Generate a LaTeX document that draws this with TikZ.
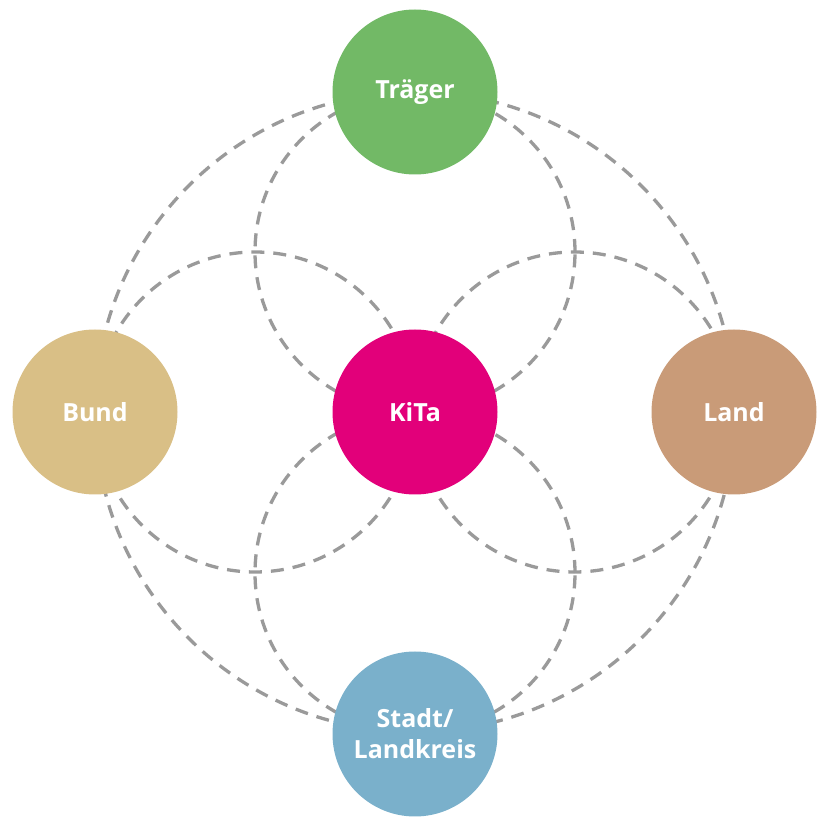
\documentclass[tikz,border=0pt]{standalone}
\usepackage{fontspec}
\setsansfont{Open Sans}
\usepackage{tikz}
\usetikzlibrary{calc,backgrounds}

\definecolor{traegergreen}{HTML}{72B966}
\definecolor{bundsand}{HTML}{D9BF86}
\definecolor{kitamagenta}{HTML}{E2007A}
\definecolor{landbrown}{HTML}{C99B78}
\definecolor{stadtblue}{HTML}{7AB0CB}
\definecolor{ringgray}{HTML}{9A9A9A}

\begin{document}
\begin{tikzpicture}[x=1pt, y=1pt,
  actor/.style={circle, minimum size=165pt, inner sep=0pt, text=white,
    align=center, font=\sffamily\bfseries\fontsize{25}{31}\selectfont},
  ring/.style={draw=ringgray, line width=3.3pt, dash pattern=on 13pt off 9pt}]

 \useasboundingbox (0,0) rectangle (828,831);

 \node[actor, fill=kitamagenta] (kita_0) at (415,419) 
     {KiTa};

 \node[actor, fill=traegergreen] (actor_traeger) at (415,739) 
     {Träger};

 \node[actor, fill=bundsand] (actor_bund) at (95,419) 
     {Bund};

 \node[actor, fill=landbrown] (actor_land) at (734,419) 
     {Land};

 \node[actor, fill=stadtblue] (actor_stadt) at (415,97) 
     {Stadt/\\Landkreis};


 \begin{scope}[on background layer]
 \draw [ring] (kita_0.center) circle [radius=320];
 \draw [ring] ($(kita_0)!0.5!(actor_traeger)$) circle [radius=160];
 \draw [ring] ($(kita_0)!0.5!(actor_bund)$) circle [radius=160];
 \draw [ring] ($(kita_0)!0.5!(actor_land)$) circle [radius=160];
 \draw [ring] ($(kita_0)!0.5!(actor_stadt)$) circle [radius=160];
 \end{scope}


\end{tikzpicture}
\end{document}
